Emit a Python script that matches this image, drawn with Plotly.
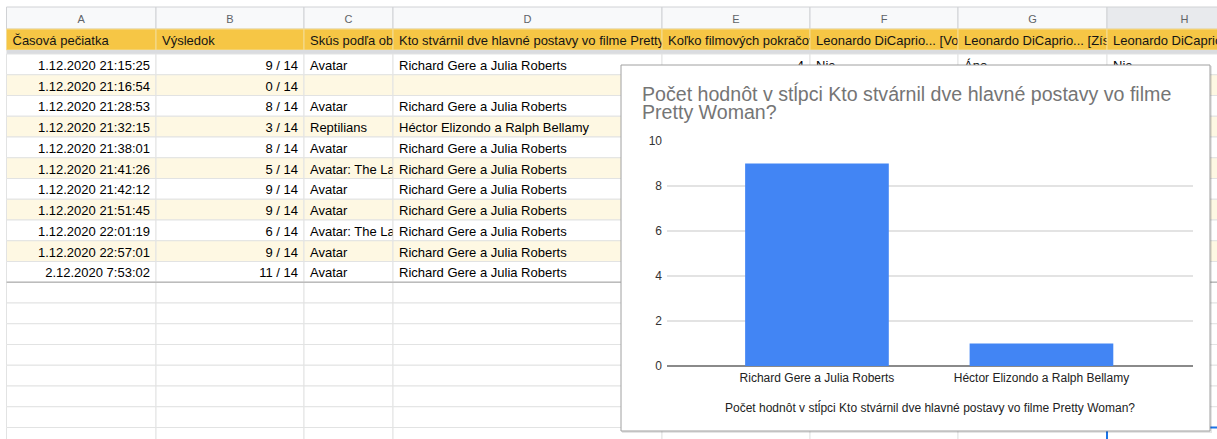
import plotly.graph_objects as go

# ---------------- data ----------------
column_letters = ["A", "B", "C", "D", "E", "F", "G", "H"]
field_headers = [
    "Časová pečiatka",
    "Výsledok",
    "Skús podľa obr",
    "Kto stvárnil dve hlavné postavy vo filme Pretty Woman?",
    "Koľko filmových pokračovaní",
    "Leonardo DiCaprio... [Vo",
    "Leonardo DiCaprio... [Zís",
    "Leonardo DiCaprio... [",
]
timestamps = [
    "1.12.2020 21:15:25", "1.12.2020 21:16:54", "1.12.2020 21:28:53",
    "1.12.2020 21:32:15", "1.12.2020 21:38:01", "1.12.2020 21:41:26",
    "1.12.2020 21:42:12", "1.12.2020 21:51:45", "1.12.2020 22:01:19",
    "1.12.2020 22:57:01", "2.12.2020 7:53:02",
]
scores = ["9 / 14", "0 / 14", "8 / 14", "3 / 14", "8 / 14", "5 / 14",
          "9 / 14", "9 / 14", "6 / 14", "9 / 14", "11 / 14"]
film_guess = ["Avatar", "", "Avatar", "Reptilians", "Avatar", "Avatar: The La",
              "Avatar", "Avatar", "Avatar: The La", "Avatar", "Avatar"]
pretty_woman = [
    "Richard Gere a Julia Roberts", "", "Richard Gere a Julia Roberts",
    "Héctor Elizondo a Ralph Bellamy", "Richard Gere a Julia Roberts",
    "Richard Gere a Julia Roberts", "Richard Gere a Julia Roberts",
    "Richard Gere a Julia Roberts", "Richard Gere a Julia Roberts",
    "Richard Gere a Julia Roberts", "Richard Gere a Julia Roberts",
]
first_row_rest = ["4", "Nie", "Áno", "Nie"]

categories = ["Richard Gere a Julia Roberts", "Héctor Elizondo a Ralph Bellamy"]
counts = [9, 1]

chart_title_lines = ["Počet hodnôt v stĺpci Kto stvárnil dve hlavné postavy vo filme",
                     "Pretty Woman?"]
x_axis_title = "Počet hodnôt v stĺpci Kto stvárnil dve hlavné postavy vo filme Pretty Woman?"

# ---------------- layout constants ----------------
W, H = 1217, 439
FONT = "Arial, 'Liberation Sans', sans-serif"
col_edges = [6.5, 156, 304, 393, 662, 810, 958, 1107, 1262]
col_align = ["middle right", "middle right", "middle left", "middle left",
             "middle right", "middle left", "middle left", "middle left"]
ROW0, ROWH, NROWS = 54, 20.75, 19


def fx(x):
    return x / W


def fy(y):
    return 1 - y / H


shapes = []


def cell(x0, x1, y0, y1, fill, line_color="#e2e3e3", text=None,
         pos="middle left", size=13, color="#000000", lw=1):
    s = dict(type="rect", xref="paper", yref="paper",
             x0=fx(x0), x1=fx(x1), y0=fy(y1), y1=fy(y0),
             fillcolor=fill, line=dict(color=line_color, width=lw), layer="below")
    if text:
        s["label"] = dict(text=text, textposition=pos, textangle=0, padding=3,
                          font=dict(family=FONT, size=size, color=color))
    shapes.append(s)


# white backdrop
cell(0, W, 0, H, "#ffffff", line_color="rgba(0,0,0,0)", lw=0)

# column letter row
for j, letter in enumerate(column_letters):
    fill = "#e8eaed" if letter == "H" else "#f8f9fa"
    cell(col_edges[j], col_edges[j + 1], 7, 29, fill, line_color="#d0d2d5",
         text=letter, pos="middle center", size=11, color="#5f6368")

# field header row
for j, t in enumerate(field_headers):
    cell(col_edges[j], col_edges[j + 1], 29, 50, "#f6c645", line_color="#f3dc97",
         text=t, pos="middle left", size=13, color="#141414")

# freeze band
cell(col_edges[0], W + 10, 50, 54, "#dadce0", line_color="rgba(0,0,0,0)", lw=0)

# data rows
for i in range(NROWS):
    y0 = ROW0 + i * ROWH
    y1 = y0 + ROWH
    if i < len(timestamps):
        fill = "#ffffff" if i % 2 == 0 else "#fef8e3"
        values = [timestamps[i], scores[i], film_guess[i], pretty_woman[i]]
        values += first_row_rest if i == 0 else ["", "", "", ""]
    else:
        fill = "#ffffff"
        values = [""] * 8
    for j in range(8):
        cell(col_edges[j], col_edges[j + 1], y0, y1, fill,
             text=values[j] or None, pos=col_align[j], size=13, color="#000000")

# end of banded range line
shapes.append(dict(type="line", xref="paper", yref="paper",
                   x0=fx(6.5), x1=fx(W + 10),
                   y0=fy(ROW0 + 11 * ROWH), y1=fy(ROW0 + 11 * ROWH),
                   line=dict(color="#bcbcbc", width=1.5), layer="below"))

# selected cell in column H
cell(col_edges[7], col_edges[8], ROW0 + 18 * ROWH, ROW0 + 19 * ROWH, "#ffffff",
     line_color="#1a73e8", lw=2)

# chart container: soft shadow + box
cell(622, 1212, 66, 433, "rgba(0,0,0,0.10)", line_color="rgba(0,0,0,0)", lw=0)
cell(621, 1210, 65, 431, "#ffffff", line_color="#a0a0a0", lw=1)

# ---------------- chart ----------------
fig = go.Figure()
fig.add_trace(go.Bar(
    x=categories, y=counts, width=0.64,
    marker=dict(color="#4285f4", line=dict(width=0)),
    hoverinfo="skip",
))

annotations = [
    dict(text=chart_title_lines[0], xref="paper", yref="paper", x=fx(640), y=fy(93),
         xanchor="left", yanchor="middle", showarrow=False,
         font=dict(family=FONT, size=19.6, color="#757575")),
    dict(text=chart_title_lines[1], xref="paper", yref="paper", x=fx(640), y=fy(112),
         xanchor="left", yanchor="middle", showarrow=False,
         font=dict(family=FONT, size=19.6, color="#757575")),
    dict(text=x_axis_title, xref="paper", yref="paper", x=fx(930), y=fy(407),
         xanchor="center", yanchor="middle", showarrow=False,
         font=dict(family=FONT, size=12, color="#222222")),
]

fig.update_layout(
    width=W, height=H,
    margin=dict(l=0, r=0, t=0, b=0, pad=0, autoexpand=False),
    paper_bgcolor="#ffffff", plot_bgcolor="#ffffff",
    showlegend=False,
    shapes=shapes,
    annotations=annotations,
    font=dict(family=FONT),
    xaxis=dict(domain=[fx(667), fx(1193)], range=[-0.668, 1.675],
               showgrid=False, zeroline=False, showline=False, ticks="",
               automargin=False, ticklabelstandoff=3,
               tickfont=dict(family=FONT, size=12, color="#222222"),
               fixedrange=True),
    yaxis=dict(domain=[fy(366), fy(141)], range=[0, 10], dtick=2,
               showgrid=True, gridcolor="#e3e3e3", gridwidth=1.5,
               zeroline=True, zerolinecolor="#8a8a8a", zerolinewidth=1.5,
               showline=False, ticks="", ticklabelstandoff=4, automargin=False,
               tickfont=dict(family=FONT, size=12, color="#333333"),
               fixedrange=True),
)

post_js = (
    "document.documentElement.style.margin='0';"
    "document.documentElement.style.overflow='hidden';"
    "document.body.style.margin='0';"
    "document.body.style.padding='0';"
    "document.body.style.overflow='hidden';"
    "var gd=document.getElementById('{plot_id}');"
    "gd.style.position='fixed';gd.style.left='0px';gd.style.top='0px';"
)

fig.write_html("out.html", config={"displayModeBar": False}, post_script=post_js)
